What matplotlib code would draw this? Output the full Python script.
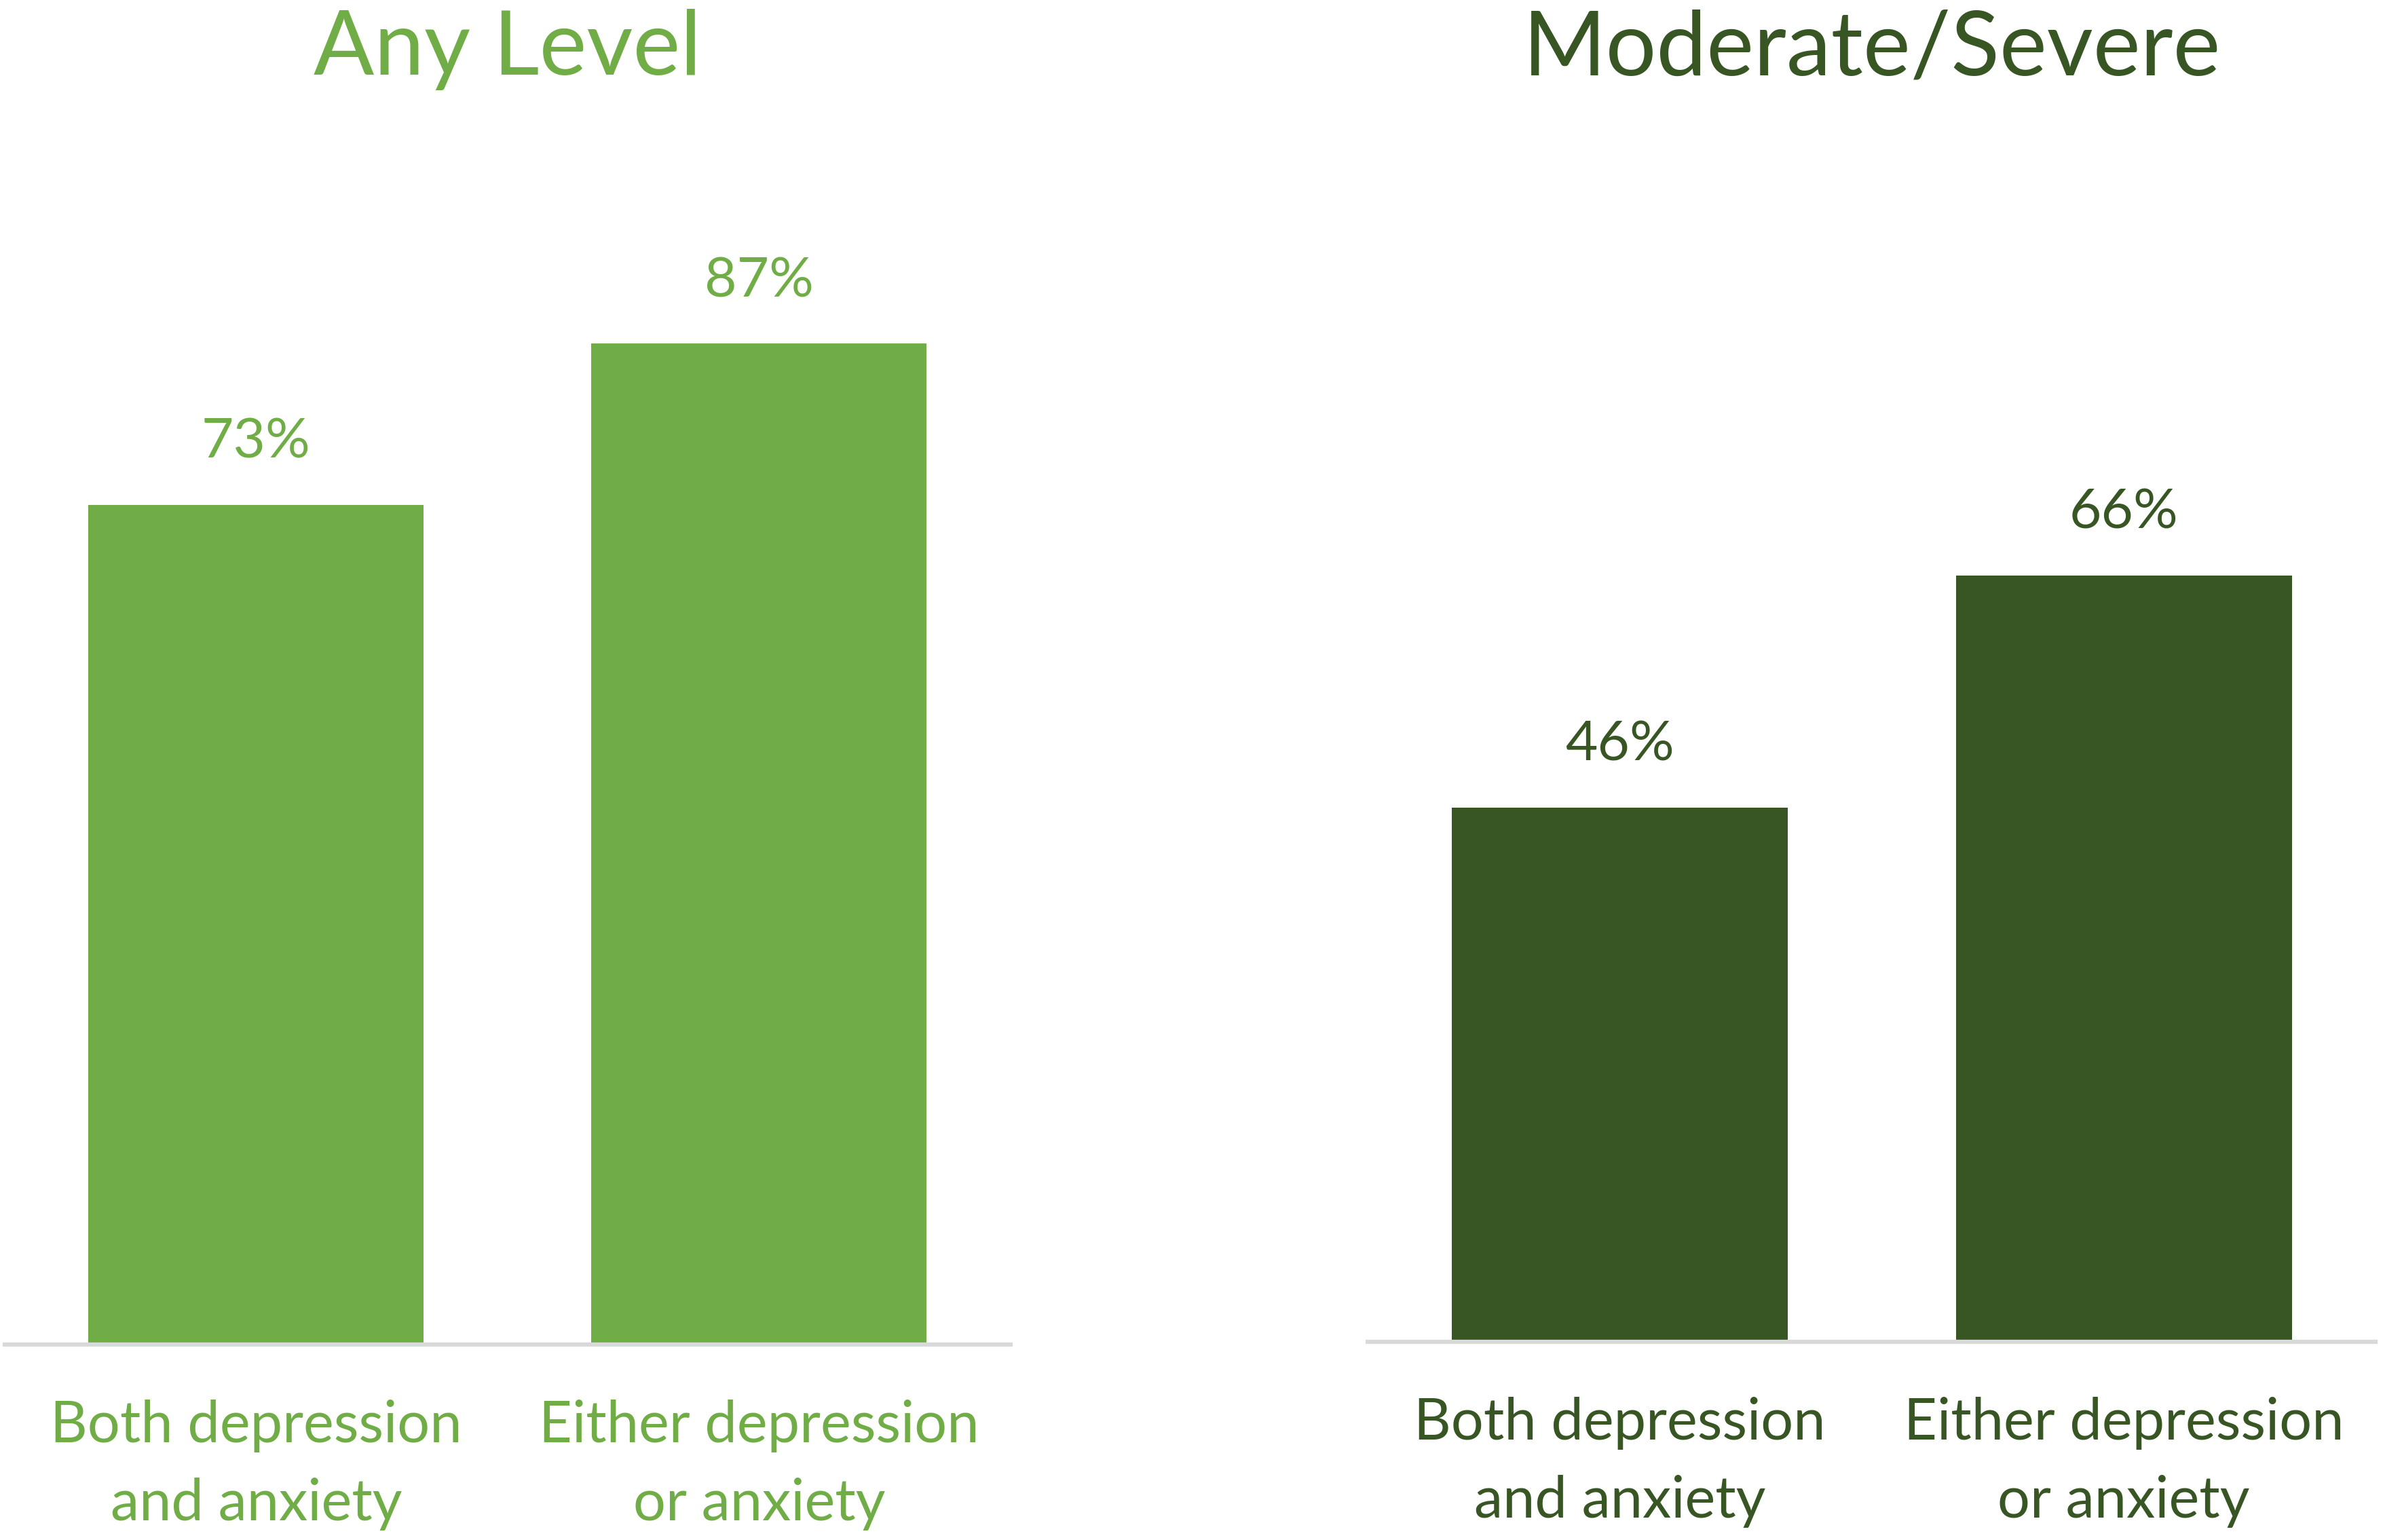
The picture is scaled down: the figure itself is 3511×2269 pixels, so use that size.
import matplotlib
import matplotlib.pyplot as plt

matplotlib.use('Agg')
plt.rcParams['font.family'] = ['Lato', 'DejaVu Sans']

# data
categories = ['Both depression\nand anxiety', 'Either depression\nor anxiety']
panel_titles = ['Any Level', 'Moderate/Severe']
any_level = [73, 87]
moderate_severe = [46, 66]
panel_values = [any_level, moderate_severe]

light_green = '#70AD47'
dark_green = '#375623'
panel_colors = [light_green, dark_green]
axis_grey = '#D9D9D9'

fig = plt.figure(figsize=(35.11, 22.69), dpi=100)

# [left, bottom, width, height] in figure fractions
panel_boxes = [
    [0.002, 0.1269, 0.422, 0.747],
    [0.574, 0.1287, 0.423, 0.754],
]

for box, title, values, color in zip(panel_boxes, panel_titles, panel_values, panel_colors):
    ax = fig.add_axes(box)
    x = range(len(values))
    bars = ax.bar(x, values, width=0.667, color=color, zorder=2)
    ax.set_xlim(-0.5, 1.5)
    ax.set_ylim(0, 100)

    for bar, v in zip(bars, values):
        ax.annotate(f'{v}%', (bar.get_x() + bar.get_width() / 2, v),
                    xytext=(0, 50), textcoords='offset points',
                    ha='center', va='baseline', fontsize=59, color=color)

    # axes frame: only a light grey baseline
    for side in ['top', 'right', 'left']:
        ax.spines[side].set_visible(False)
    ax.spines['bottom'].set_color(axis_grey)
    ax.spines['bottom'].set_linewidth(4.5)
    ax.set_yticks([])
    ax.set_xticks(list(x))
    ax.set_xticklabels(categories, fontsize=61, color=color, linespacing=1.6)
    ax.tick_params(axis='x', length=0, pad=58)

    cx = box[0] + box[2] / 2
    fig.text(cx, 0.9515, title, ha='center', va='baseline', fontsize=95, color=color)

fig.savefig('out.png', dpi=100, facecolor='white')
